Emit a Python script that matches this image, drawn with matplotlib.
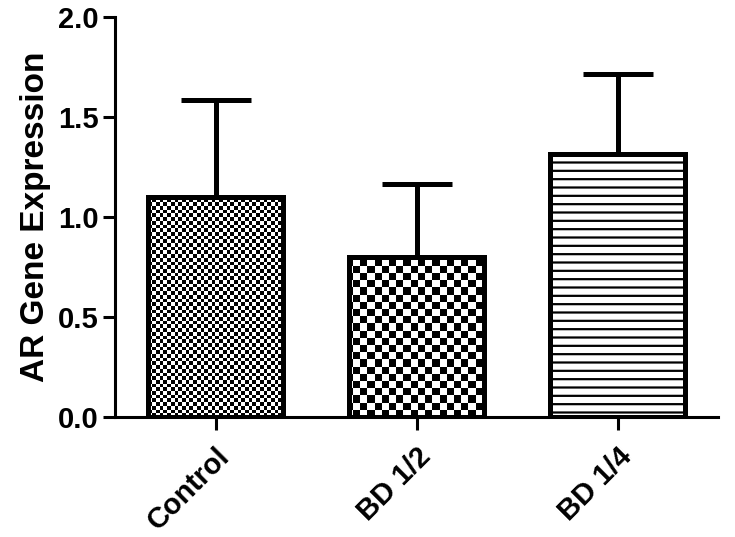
import numpy as np
import matplotlib
matplotlib.use("Agg")
import matplotlib.pyplot as plt

categories = ["Control", "BD 1/2", "BD 1/4"]
means = [1.10, 0.80, 1.315]
errors = [0.485, 0.365, 0.40]
y_ticks = [0.0, 0.5, 1.0, 1.5, 2.0]

plt.rcParams['font.family'] = ['Liberation Sans', 'DejaVu Sans']
plt.rcParams['font.weight'] = 'bold'
plt.rcParams['hatch.linewidth'] = 1.6

fig = plt.figure(figsize=(7.35, 5.37), dpi=100)
ax = fig.add_axes([115/735, 120/537, 603/735, 400/537])

x = np.arange(len(categories))
faces = ['none', 'none', 'white']
bars = ax.bar(x, means, width=0.675, color=faces, edgecolor='black',
              linewidth=3.6, zorder=3)
ax.errorbar(x, means, yerr=[np.zeros(len(errors)), errors], fmt='none',
            ecolor='black', elinewidth=3.6, capsize=25, capthick=3.6, zorder=2)

# checkerboard fills
def checker(cell_px):
    nx = int(np.ceil(603 / cell_px))
    ny = int(np.ceil(400 / cell_px))
    ii, jj = np.meshgrid(np.arange(nx), np.arange(ny))
    return ((ii + jj) % 2).astype(float)

for bar, cell in [(bars[0], 3.7), (bars[1], 7.2)]:
    img = checker(cell)
    nx = img.shape[1]; ny = img.shape[0]
    im = ax.imshow(img, cmap='gray', vmin=0, vmax=1, interpolation='nearest',
                   extent=[0, nx * cell / 603, 0, ny * cell / 400],
                   transform=ax.transAxes, aspect='auto', zorder=2.5)
    im.set_clip_path(bar)

bars[2].set_hatch('--')

ax.set_xlim(-0.5, 2.5)
ax.set_ylim(0, 2.0)
ax.set_yticks(y_ticks)
ax.set_yticklabels([f"{v:.1f}" for v in y_ticks], fontsize=21, fontweight='bold')
ax.set_xticks(x)
ax.set_xticklabels(categories, rotation=45, ha='right', rotation_mode='anchor',
                   fontsize=21, fontweight='bold')
ax.set_ylabel("AR Gene Expression", fontsize=24, fontweight='bold', labelpad=5)

for s in ['top', 'right']:
    ax.spines[s].set_visible(False)
for s in ['left', 'bottom']:
    ax.spines[s].set_linewidth(2.2)
ax.tick_params(axis='y', width=2.2, length=9, direction='out', pad=3)
ax.tick_params(axis='x', width=2.2, length=9, direction='out', pad=9)

fig.savefig("out.png", dpi=100)
